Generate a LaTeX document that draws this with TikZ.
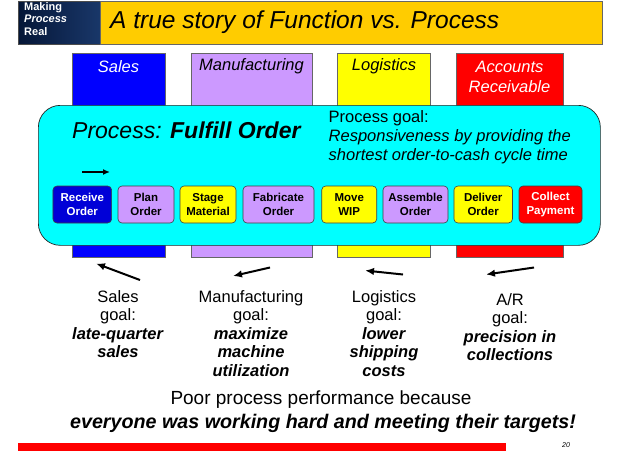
\documentclass[tikz,border=0pt]{standalone}
\usepackage{fontspec}
\setmainfont{Liberation Sans}
\usetikzlibrary{arrows.meta}
\definecolor{salesblue}{RGB}{0,0,255}
\definecolor{recvblue}{RGB}{0,0,215}
\definecolor{lav}{RGB}{204,153,255}
\definecolor{ylw}{RGB}{255,255,0}
\definecolor{rd}{RGB}{255,0,0}
\definecolor{cyn}{RGB}{0,255,255}
\definecolor{titleyellow}{RGB}{255,204,0}
\definecolor{navyL}{RGB}{5,22,55}
\definecolor{navyR}{RGB}{25,55,105}
\tikzset{
  colbox/.style={draw=black!60, line width=0.6pt, minimum width=#1, minimum height=204, anchor=north west, inner sep=0},
  collabel/.style={font=\fontsize{16.5}{20}\selectfont\itshape, align=center, inner sep=0},
  stepbox/.style={draw=black!75, line width=0.6pt, rounded corners=4pt, minimum height=37, minimum width=#1, inner sep=0, align=center, font=\fontsize{11.5}{13.5}\selectfont\bfseries},
  goaltext/.style={font=\fontsize{16.5}{18.6}\selectfont, align=center, inner sep=0, anchor=north},
  goalarrow/.style={line width=2pt, -{Latex[length=9pt,width=7.5pt]}},
}
\begin{document}
\begin{tikzpicture}[x=1pt,y=-1pt]
\useasboundingbox (0,0) rectangle (638,451);
\fill[white] (0,0) rectangle (638,451);
% title bar
\node[left color=navyL, right color=navyR, draw=black!70, minimum width=82, minimum height=43, anchor=north west, inner sep=0] (brand) at (18,1) {};
\node[fill=titleyellow, draw=black!60, minimum width=502, minimum height=43, anchor=north west, inner sep=0] (titlebar) at (100,1) {};
\node[anchor=north west, align=left, text=white, font=\fontsize{11}{12.3}\selectfont\bfseries, inner sep=0] (brandtxt) at (24,2.5) {Making\\\textit{Process}\\Real};
\node[anchor=west, font=\fontsize{24.5}{28}\selectfont\itshape, inner sep=0] (title) at (110,22.5) {A true story of Function vs. Process};
% columns
\node[colbox=93, fill=salesblue] (salescol) at (72,53) {};
\node[colbox=121, fill=lav] (mfgcol) at (191,53) {};
\node[colbox=93, fill=ylw] (logcol) at (337,53) {};
\node[colbox=107, fill=rd] (arcol) at (456,53) {};
\node[collabel, text=white] (saleslbl) at (118.5,67) {Sales};
\node[collabel] (mfglbl) at (251.5,66) {Manufacturing};
\node[collabel] (loglbl) at (384,66) {Logistics};
\node[collabel, text=white, font=\fontsize{16.5}{20.5}\selectfont\itshape] (arlbl) at (509.5,77) {Accounts\\Receivable};
% process band
\node[draw=black!85, line width=0.7pt, fill=cyn, rounded corners=22pt, minimum width=562, minimum height=140, anchor=north west, inner sep=0] (proc) at (38,105) {};
\node[anchor=west, font=\fontsize{23}{27}\selectfont\itshape, inner sep=0] (proctitle) at (72,130) {Process: \textbf{Fulfill Order}};
\node[anchor=north west, align=left, inner sep=0, font=\fontsize{16.5}{19}\selectfont] (procgoal) at (328.5,110.5) {Process goal:\\\textit{Responsiveness by providing the}\\\textit{shortest order-to-cash cycle time}};
\coordinate (flowA) at (82,172);
\coordinate (flowB) at (110,172);
\draw[line width=1.8pt, -{Latex[length=7pt,width=6pt]}] (flowA) -- (flowB);
% steps
\node[stepbox=58.7, fill=recvblue, text=white] (s1) at (82.3,204.5) {Receive\\Order};
\node[stepbox=56, fill=lav] (s2) at (146,204.5) {Plan\\Order};
\node[stepbox=56, fill=ylw] (s3) at (208,204.5) {Stage\\Material};
\node[stepbox=71, fill=lav] (s4) at (278.5,204.5) {Fabricate\\Order};
\node[stepbox=55, fill=ylw] (s5) at (349.2,204.5) {Move\\WIP};
\node[stepbox=65, fill=lav] (s6) at (415.5,204.5) {Assemble\\Order};
\node[stepbox=58.5, fill=ylw] (s7) at (483.2,204.5) {Deliver\\Order};
\node[stepbox=63, fill=rd, text=white] (s8) at (550.5,204.5) {Collect\\Payment};
% goal arrows
\coordinate (g1a) at (140,280); \coordinate (g1b) at (96,263.5);
\coordinate (g2a) at (270,267.5); \coordinate (g2b) at (233,276);
\coordinate (g3a) at (403,274.5); \coordinate (g3b) at (365,270.5);
\coordinate (g4a) at (534,267.5); \coordinate (g4b) at (486,274.5);
\draw[goalarrow] (g1a) -- (g1b);
\draw[goalarrow] (g2a) -- (g2b);
\draw[goalarrow] (g3a) -- (g3b);
\draw[goalarrow] (g4a) -- (g4b);
% goals
\node[goaltext] (salesgoal) at (118,290) {Sales\\goal:\\\textbf{\textit{late-quarter}}\\\textbf{\textit{sales}}};
\node[goaltext] (mfggoal) at (251,290) {Manufacturing\\goal:\\\textbf{\textit{maximize}}\\\textbf{\textit{machine}}\\\textbf{\textit{utilization}}};
\node[goaltext] (loggoal) at (384,290) {Logistics\\goal:\\\textbf{\textit{lower}}\\\textbf{\textit{shipping}}\\\textbf{\textit{costs}}};
\node[goaltext] (argoal) at (510,293) {A/R\\goal:\\\textbf{\textit{precision in}}\\\textbf{\textit{collections}}};
% bottom
\node[font=\fontsize{19}{22}\selectfont, inner sep=0] (poor) at (321,400) {Poor process performance because};
\node[font=\fontsize{19.7}{23}\selectfont\bfseries\itshape, inner sep=0] (every) at (323,423) {everyone was working hard and meeting their targets!};
\node[fill=rd, minimum width=488, minimum height=8, anchor=north west, inner sep=0] (redbar) at (18,442.5) {};
\node[font=\fontsize{7}{8}\selectfont\itshape, inner sep=0] (pagenum) at (566,445) {20};
\end{tikzpicture}
\end{document}
